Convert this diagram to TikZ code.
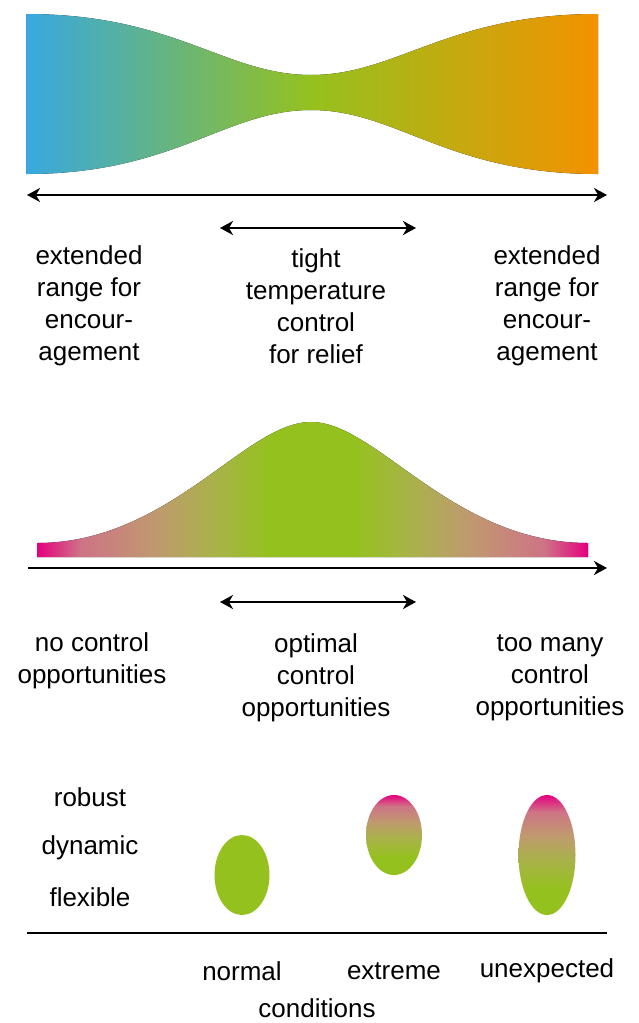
\documentclass[tikz,border=0pt]{standalone}
\usepackage{fontspec}
\setmainfont{Liberation Sans}
\usepackage{tikz}
\usetikzlibrary{arrows.meta,shapes.geometric}

\definecolor{cblue}{HTML}{38A8E0}
\definecolor{cgreen}{HTML}{95C11F}
\definecolor{corange}{HTML}{F39200}
\definecolor{cmagenta}{HTML}{E5007E}
\definecolor{ctan}{HTML}{BF9A6E}
\definecolor{colive}{HTML}{A9B24A}
\definecolor{cpink}{HTML}{CE7486}

\pgfdeclarehorizontalshading{tempgrad}{100bp}{color(0bp)=(cblue); color(25bp)=(cblue); color(50bp)=(cgreen); color(75bp)=(corange); color(100bp)=(corange)}
\pgfdeclarehorizontalshading{bellgrad}{100bp}{color(0bp)=(cmagenta); color(25bp)=(cmagenta); color(29bp)=(cpink); color(36bp)=(ctan); color(41bp)=(colive); color(46bp)=(cgreen); color(54bp)=(cgreen); color(59bp)=(colive); color(64bp)=(ctan); color(71bp)=(cpink); color(75bp)=(cmagenta); color(100bp)=(cmagenta)}
\pgfdeclareverticalshading{ovalgrad}{100bp}{color(0bp)=(cgreen); color(25bp)=(cgreen); color(36bp)=(cgreen); color(48bp)=(colive); color(58bp)=(ctan); color(68bp)=(cpink); color(75bp)=(cmagenta); color(100bp)=(cmagenta)}

\tikzset{
  label/.style={align=center, font=\fontsize{26}{32}\selectfont},
  axisline/.style={line width=2pt, arrows={Stealth[length=13pt,width=14pt,inset=4pt]-Stealth[length=13pt,width=14pt,inset=4pt]}},
  oval/.style={ellipse, inner sep=0pt},
  shadedoval/.style={oval, shading=ovalgrad}
}

\begin{document}
\begin{tikzpicture}[x=1pt, y=-1pt]
  \useasboundingbox (0,0) rectangle (638,1023);

  \fill[shading=tempgrad] (26,14) .. controls (175,14) and (225,75) .. (311,75)
    .. controls (397,75) and (447,14) .. (598,14) -- (598,174)
    .. controls (447,174) and (397,110) .. (311,110)
    .. controls (225,110) and (175,174) .. (26,174) -- cycle;

  \coordinate (topl) at (27,195);
  \coordinate (topr) at (607,195);
  \coordinate (tightl) at (220,228);
  \coordinate (tightr) at (416,228);
  \draw[axisline] (topl) -- (topr);
  \draw[axisline] (tightl) -- (tightr);

  \node[label] (encl) at (89,306) {extended\\range for\\encour-\\agement};
  \node[label] (tight) at (316,306) {tight\\temperature\\control\\for relief};
  \node[label] (encr) at (547,306) {extended\\range for\\encour-\\agement};

  \fill[shading=bellgrad] (37,557) -- (37,543) .. controls (170,543) and (245,422) .. (311,422)
    .. controls (377,422) and (452,543) .. (588,543) -- (588,557) -- cycle;

  \coordinate (ctrll) at (28,568);
  \coordinate (ctrlr) at (607,568);
  \coordinate (optl) at (220,602);
  \coordinate (optr) at (416,602);
  \draw[axisline, arrows={-Stealth[length=13pt,width=14pt,inset=4pt]}] (ctrll) -- (ctrlr);
  \draw[axisline] (optl) -- (optr);

  \node[label] (noctrl) at (92,661) {no control\\opportunities};
  \node[label] (optctrl) at (316,678) {optimal\\control\\opportunities};
  \node[label] (manyctrl) at (550,678) {too many\\control\\opportunities};

  \node[label] (robust) at (90,797) {robust};
  \node[label] (dynamic) at (90,848) {dynamic};
  \node[label] (flexible) at (90,897) {flexible};

  \node[oval, fill=cgreen, minimum width=55pt, minimum height=80pt] (normaloval) at (242,875) {};
  \node[shadedoval, minimum width=56pt, minimum height=80pt] (extremeoval) at (394,835) {};
  \node[shadedoval, minimum width=57pt, minimum height=120pt] (unexpoval) at (547,855) {};

  \coordinate (basel) at (27,933);
  \coordinate (baser) at (607,933);
  \draw[line width=2pt] (basel) -- (baser);

  \node[label] (normal) at (242,971) {normal};
  \node[label] (extreme) at (394,971) {extreme};
  \node[label] (unexpected) at (547,971) {unexpected};
  \node[label] (conditions) at (317,1008) {conditions};
\end{tikzpicture}
\end{document}
